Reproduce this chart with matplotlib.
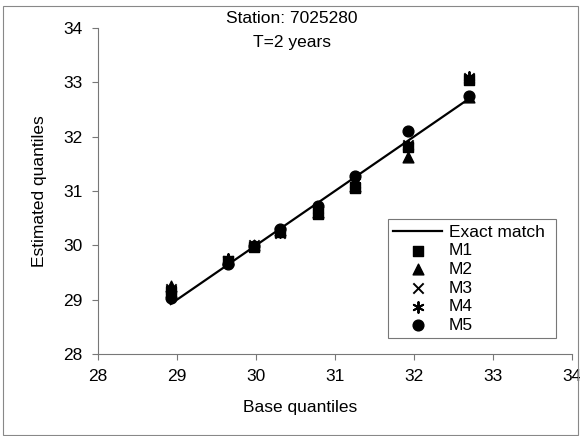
import matplotlib.pyplot as plt
from matplotlib.patches import Rectangle

plt.rcParams['font.family'] = ['Liberation Sans', 'DejaVu Sans']

# Base quantiles (x) and estimated quantiles per method
base = [28.92, 29.65, 29.97, 30.30, 30.78, 31.25, 31.93, 32.70]
m1 = [29.15, 29.72, 29.97, 30.25, 30.58, 31.05, 31.80, 33.05]
m2 = [29.25, 29.75, 30.00, 30.28, 30.62, 31.10, 31.62, 32.72]
m3 = [29.20, 29.72, 30.00, 30.22, 30.60, 31.15, 31.85, 33.08]
m4 = [29.20, 29.75, 29.98, 30.25, 30.65, 31.20, 31.82, 33.10]
m5 = [29.03, 29.65, 29.98, 30.30, 30.72, 31.28, 32.10, 32.75]

fig = plt.figure(figsize=(5.8, 4.36), dpi=100)
ax = fig.add_axes([0.169, 0.188, 0.817, 0.748])

# chart area border
fig.patches.append(Rectangle((0.006, 0.002), 0.99, 0.985, transform=fig.transFigure,
                             fill=False, edgecolor='#888888', linewidth=0.8))

ax.plot([min(base), max(base)], [min(base), max(base)], color='black', lw=1.6, label='Exact match', zorder=2)
ax.scatter(base, m1, marker='s', s=48, color='black', label='M1', zorder=3)
ax.scatter(base, m2, marker='^', s=60, color='black', label='M2', zorder=3)
ax.scatter(base, m3, marker='x', s=55, color='black', linewidths=1.4, label='M3', zorder=3)
ax.scatter(base, m4, marker=(6, 2, 0), s=60, color='black', linewidths=1.4, label='M4', zorder=3)
ax.scatter(base, m5, marker='o', s=60, color='black', label='M5', zorder=3)

ax.set_xlim(28, 34)
ax.set_ylim(28, 34)
ax.set_xticks(range(28, 35))
ax.set_yticks(range(28, 35))
ax.spines['top'].set_visible(False)
ax.spines['right'].set_visible(False)
ax.spines['left'].set_color('#777777')
ax.spines['bottom'].set_color('#777777')
ax.tick_params(direction='out', length=4, width=0.8, colors='#777777', labelcolor='black', labelsize=12.5, pad=7)

ax.set_xlabel('Base quantiles', fontsize=12.5)
ax.xaxis.set_label_coords(0.426, -0.14)
ax.set_ylabel('Estimated quantiles', fontsize=12.5, labelpad=12)

ax.text(30.45, 34.18, 'Station: 7025280', ha='center', va='center', fontsize=12.5, clip_on=False)
ax.text(30.45, 33.73, 'T=2 years', ha='center', va='center', fontsize=12.5, clip_on=False)

leg = ax.legend(loc='lower left', bbox_to_anchor=(0.612, 0.049, 0.354, 0.445), mode='expand',
                fontsize=12.5, frameon=True, fancybox=False, handlelength=2.8, handletextpad=0.4,
                labelspacing=0.2, borderaxespad=0, borderpad=0.3)
leg.get_frame().set_edgecolor('#555555')
leg.get_frame().set_linewidth(0.8)

fig.savefig('out.png', dpi=100)
